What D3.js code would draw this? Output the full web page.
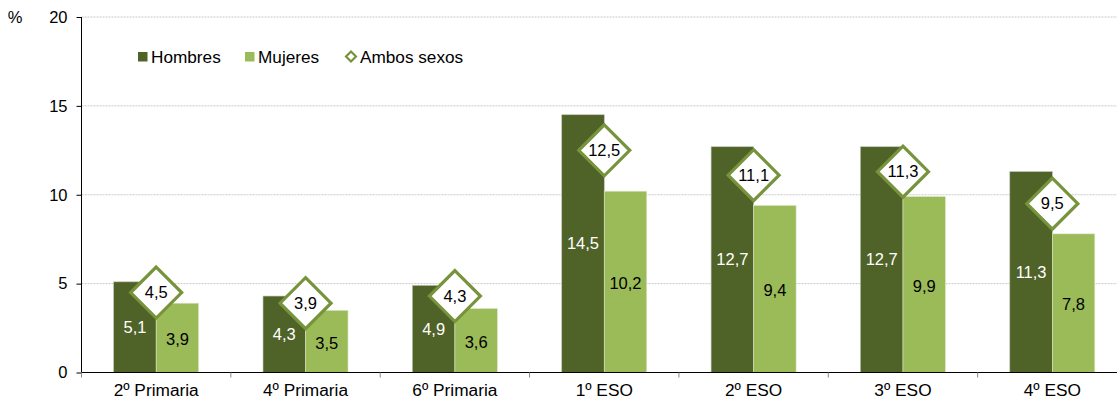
<!DOCTYPE html>
<html><head><meta charset="utf-8">
<script src="https://cdn.jsdelivr.net/npm/d3@7"></script>
<style>body{margin:0;background:#fff;}svg{display:block;font-family:"Liberation Sans",Arial,sans-serif;}</style>
</head><body>
<svg id="c" width="1117" height="400"></svg>
<script>
const categories = ["2º Primaria","4º Primaria","6º Primaria","1º ESO","2º ESO","3º ESO","4º ESO"];
const hombres = [5.1,4.3,4.9,14.5,12.7,12.7,11.3];
const mujeres = [3.9,3.5,3.6,10.2,9.4,9.9,7.8];
const ambos = [4.5,3.9,4.3,12.5,11.1,11.3,9.5];
const yTicks = [0,5,10,15,20];
const seriesNames = ["Hombres","Mujeres","Ambos sexos"];

const cH = "#4F6228", cM = "#9BBB59", cA = "#77933C";
const fmt = v => String(v.toFixed(1)).replace(".", ",");
const FF = "Liberation Sans, Arial, sans-serif";

const svg = d3.select("#c");
const x0 = 81.5, x1 = 1127, yTop = 17, yBot = 372.5;
const x = d3.scaleBand().domain(categories).range([x0, x1]).paddingInner(0).paddingOuter(0);
const y = d3.scaleLinear().domain([0,20]).range([yBot, yTop]);
const barW = 42.5;

// gridlines
svg.append("g").selectAll("line").data(yTicks.filter(t=>t>0)).join("line")
  .attr("x1", x0).attr("x2", 1117).attr("y1", d=>y(d)).attr("y2", d=>y(d))
  .attr("stroke", "#c8c8c8").attr("stroke-width", 1).attr("stroke-dasharray", "2,1");

// bars
const g = svg.append("g");
g.selectAll("rect.h").data(categories).join("rect").attr("class","h")
  .attr("x", (d)=>x(d)+x.bandwidth()/2-barW).attr("width", barW)
  .attr("y", (d,i)=>y(hombres[i])).attr("height", (d,i)=>y(0)-y(hombres[i]))
  .attr("fill", cH).attr("stroke","#b9bfae").attr("stroke-width",0.6);
g.selectAll("rect.m").data(categories).join("rect").attr("class","m")
  .attr("x", (d)=>x(d)+x.bandwidth()/2).attr("width", barW)
  .attr("y", (d,i)=>y(mujeres[i])).attr("height", (d,i)=>y(0)-y(mujeres[i]))
  .attr("fill", cM).attr("stroke","#dfe8cc").attr("stroke-width",0.6);

// bar labels
g.selectAll("text.hl").data(categories).join("text")
  .attr("x", d=>x(d)+x.bandwidth()/2-barW/2).attr("y", (d,i)=>(y(hombres[i])+y(0))/2)
  .attr("dy","0.35em").attr("text-anchor","middle").attr("font-size",16.5).attr("fill","#fff")
  .text((d,i)=>fmt(hombres[i]));
g.selectAll("text.ml").data(categories).join("text")
  .attr("x", d=>x(d)+x.bandwidth()/2+barW/2).attr("y", (d,i)=>(y(mujeres[i])+y(0))/2+1.5)
  .attr("dy","0.35em").attr("text-anchor","middle").attr("font-size",16.5).attr("fill","#000")
  .text((d,i)=>fmt(mujeres[i]));

// diamonds
const dh = 25.5;
const dg = g.selectAll("g.dm").data(categories).join("g")
  .attr("transform", (d,i)=>`translate(${x(d)+x.bandwidth()/2},${y(ambos[i])})`);
dg.append("path").attr("d", `M0,${-dh}L${dh},0L0,${dh}L${-dh},0Z`)
  .attr("fill","#fff").attr("stroke", cA).attr("stroke-width", 3.2);
dg.append("text").attr("dy","0.35em").attr("text-anchor","middle").attr("font-size",16.5)
  .attr("fill","#000").text((d,i)=>fmt(ambos[i]));

// axes
const ya = svg.append("g").attr("transform",`translate(${x0},0)`)
  .call(d3.axisLeft(y).tickValues(yTicks).tickSize(5).tickPadding(9));
ya.select(".domain").attr("stroke","#000").attr("d", `M0,${yTop}V${yBot}`);
ya.selectAll(".tick line").attr("stroke","#000");
ya.selectAll("text").attr("font-size",16.5).attr("fill","#000").attr("font-family",FF);

const xa = svg.append("g").attr("transform",`translate(0,${yBot})`)
  .call(d3.axisBottom(x).tickSize(0).tickPadding(11));
xa.select(".domain").attr("stroke","#000").attr("d", `M${x0},0H1117`);
xa.selectAll("text").attr("font-size",17.3).attr("fill","#000").attr("font-family",FF);
// boundary ticks between categories
svg.append("g").selectAll("line").data(categories).join("line")
  .attr("x1", d=>x(d)).attr("x2", d=>x(d)).attr("y1", yBot).attr("y2", yBot+5)
  .attr("stroke","#888").attr("stroke-width",1);

// % label
svg.append("text").attr("x",15).attr("y",y(20)).attr("dy","0.35em").attr("text-anchor","middle")
  .attr("font-size",16.5).attr("fill","#000").text("%");

// legend
const lg = svg.append("g").attr("font-size",17.2);
const lx = [138, 245, 345];
lg.append("rect").attr("x",lx[0]).attr("y",52).attr("width",9.5).attr("height",9.5).attr("fill",cH);
lg.append("text").attr("x",lx[0]+13).attr("y",57).attr("dy","0.35em").text(seriesNames[0]);
lg.append("rect").attr("x",lx[1]).attr("y",52).attr("width",9.5).attr("height",9.5).attr("fill",cM);
lg.append("text").attr("x",lx[1]+13).attr("y",57).attr("dy","0.35em").text(seriesNames[1]);
lg.append("path").attr("d",`M${lx[2]+6},51.5l5,5l-5,5l-5,-5Z`).attr("fill","#fff").attr("stroke",cA).attr("stroke-width",2.2);
lg.append("text").attr("x",lx[2]+15).attr("y",57).attr("dy","0.35em").text(seriesNames[2]);
</script>
</body></html>
